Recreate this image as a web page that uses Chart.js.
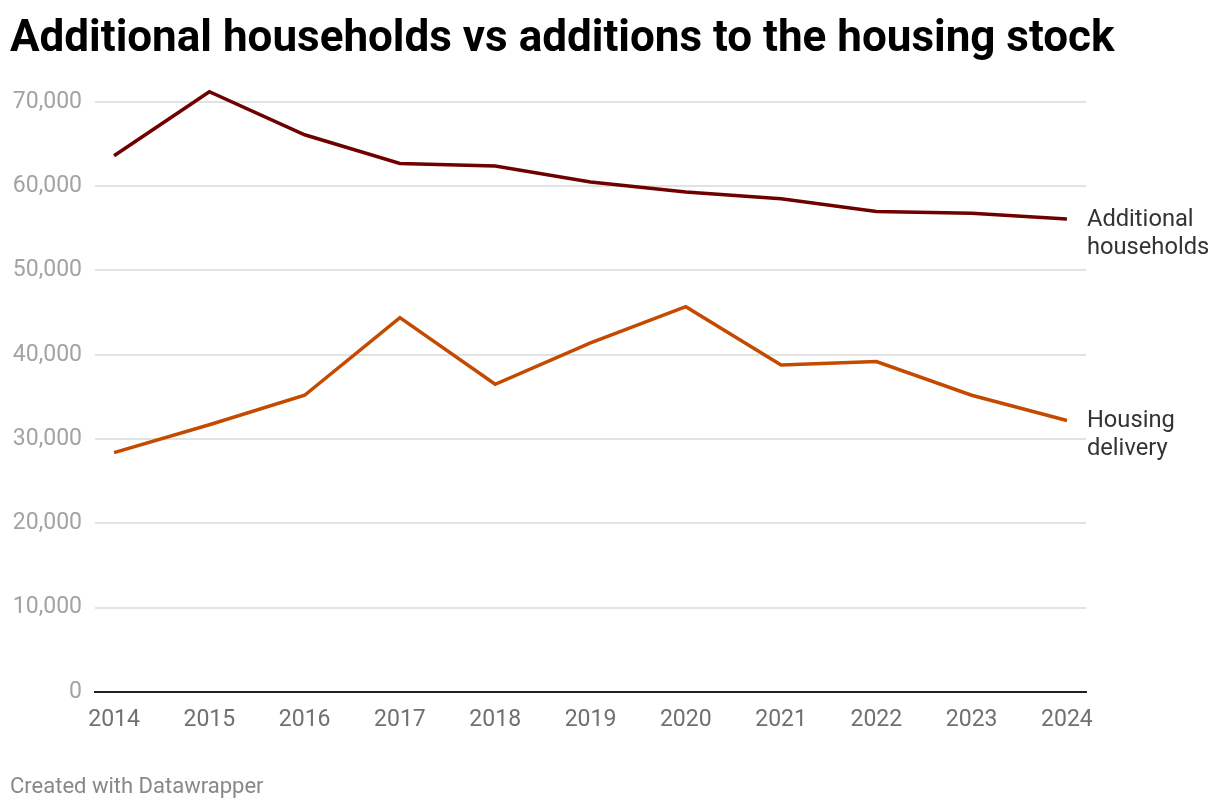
<!DOCTYPE html>
<html>
<head>
<meta charset="utf-8">
<script src="https://cdn.jsdelivr.net/npm/chart.js@4"></script>
<style>
body { margin: 0; background: #fff; font-family: Roboto, sans-serif; }
#wrap { position: relative; width: 1220px; height: 808px; }
#box { position: absolute; left: 0; top: 0; width: 1220px; height: 808px; }
h1 { position: absolute; left: 10px; top: 14px; margin: 0; font-size: 44px; line-height: 1; font-weight: 700; color: #000; }
#foot { position: absolute; left: 10px; top: 775px; font-size: 22px; line-height: 1; color: #888; }
</style>
</head>
<body>
<div id="wrap">
  <div id="box"><canvas id="myChart"></canvas></div>
  <h1>Additional households vs additions to the housing stock</h1>
  <div id="foot">Created with Datawrapper</div>
</div>
<script>
const years = [2014, 2015, 2016, 2017, 2018, 2019, 2020, 2021, 2022, 2023, 2024];
const households = [63600, 71200, 66100, 62700, 62400, 60500, 59300, 58500, 57000, 56800, 56100];
const delivery = [28400, 31700, 35200, 44400, 36500, 41400, 45700, 38800, 39200, 35200, 32200];
const yTicks = [0, 10000, 20000, 30000, 40000, 50000, 60000, 70000];
const lineLabels = [['Additional', 'households'], ['Housing', 'delivery']];

// labels at the end of each line
const endLabels = {
    id: 'endLabels',
    afterDatasetsDraw(chart) {
        const c = chart.ctx;
        c.save();
        c.font = '23.7px Roboto';
        c.fillStyle = '#333';
        c.textBaseline = 'middle';
        chart.data.datasets.forEach((ds, i) => {
            const pts = chart.getDatasetMeta(i).data;
            const last = pts[pts.length - 1];
            lineLabels[i].forEach((t, j) => c.fillText(t, last.x + 20, last.y + 1 + j * 28));
        });
        c.restore();
    }
};

const ctx = document.getElementById('myChart').getContext('2d');

const myChart = new Chart(ctx, {
    type: 'line',
    data: {
        datasets: [{
            label: 'Additional households',
            data: years.map((y, i) => ({ x: y, y: households[i] })),
            borderColor: '#6e0000',
            borderWidth: 3.5,
            pointRadius: 0,
            tension: 0
        }, {
            label: 'Housing delivery',
            data: years.map((y, i) => ({ x: y, y: delivery[i] })),
            borderColor: '#c44a00',
            borderWidth: 3.5,
            pointRadius: 0,
            tension: 0
        }]
    },
    options: {
        responsive: true,
        maintainAspectRatio: false,
        animation: false,
        layout: { padding: { left: 10, right: 134, top: 85, bottom: 66 } },
        plugins: {
            legend: { display: false },
            tooltip: { enabled: false }
        },
        scales: {
            x: {
                type: 'linear',
                min: 2013.8,
                max: 2024.2,
                afterBuildTicks: s => { s.ticks = years.map(v => ({ value: v })); },
                afterFit: s => { s.height = 50; },
                grid: { display: false, drawTicks: false },
                border: { color: '#222', width: 2 },
                ticks: {
                    padding: 14,
                    color: '#707070',
                    font: { family: 'Roboto', size: 23 },
                    maxRotation: 0,
                    autoSkip: false,
                    callback: v => String(v)
                }
            },
            y: {
                min: 0,
                max: 72000,
                afterBuildTicks: s => { s.ticks = yTicks.map(v => ({ value: v })); },
                afterFit: s => { s.width = 85; },
                grid: { color: '#e2e2e2', lineWidth: 2, drawTicks: false },
                border: { display: false },
                ticks: {
                    padding: 13,
                    color: '#a3a3a3',
                    font: { family: 'Roboto', size: 23 },
                    callback: v => v.toLocaleString('en-US')
                }
            }
        }
    },
    plugins: [endLabels]
});
</script>
</body>
</html>
